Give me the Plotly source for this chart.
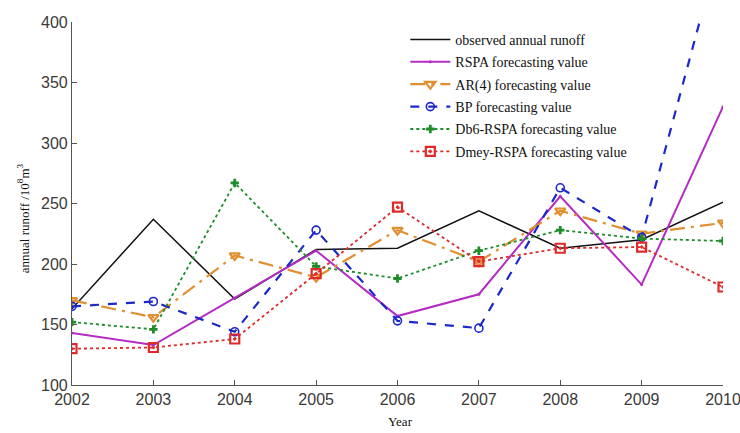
import plotly.graph_objects as go

years = [2002, 2003, 2004, 2005, 2006, 2007, 2008, 2009, 2010]
observed = [163, 237, 171, 212, 213, 244, 213, 220, 251]
rspa = [143, 133, 172, 211, 157, 175, 256, 183, 330]
ar4 = [170, 156, 207, 189, 228, 202, 244, 225, 234]
bp = [165, 169, 144, 228, 153, 147, 263, 222, 472]
db6_rspa = [152, 146, 267, 198, 188, 211, 228, 221, 219]
dmey_rspa = [130, 131, 138, 192, 247, 202, 213, 214, 181]

y_ticks = [100, 150, 200, 250, 300, 350, 400]

serif = "Liberation Serif, Times New Roman, serif"
sans = "Liberation Sans, Arial, sans-serif"

fig = go.Figure()

fig.add_trace(go.Scatter(
    x=years, y=observed, name="observed annual runoff", mode="lines",
    legendgroup="g1",
    line=dict(color="#111111", width=1.5)))

fig.add_trace(go.Scatter(
    x=years, y=rspa, name="RSPA forecasting value", mode="lines+markers",
    legendgroup="g2",
    line=dict(color="#b52bc4", width=2),
    marker=dict(symbol="circle", size=3, color="#b52bc4")))

fig.add_trace(go.Scatter(
    x=years, y=ar4, name="AR(4) forecasting value", mode="lines+markers",
    legendgroup="g3",
    line=dict(color="#e09030", width=2.2, dash="longdashdot"),
    marker=dict(symbol="triangle-down-open", size=9, color="#e09030",
                line=dict(width=2.2))))

fig.add_trace(go.Scatter(
    x=years, y=bp, name="BP forecasting value", mode="lines+markers",
    legendgroup="g4",
    line=dict(color="#1c28c8", width=2.2, dash="dash"),
    marker=dict(symbol="circle-open", size=8, color="#1c28c8",
                line=dict(width=1.6))))

fig.add_trace(go.Scatter(
    x=years, y=db6_rspa, name="Db6-RSPA forecasting value", mode="lines+markers",
    legendgroup="g5",
    line=dict(color="#1e8c2a", width=1.8, dash="dot"),
    marker=dict(symbol="cross", size=7, color="#1e8c2a")))

fig.add_trace(go.Scatter(
    x=years, y=dmey_rspa, name="Dmey-RSPA forecasting value", mode="lines+markers",
    legendgroup="g6",
    line=dict(color="#de2a2a", width=1.8, dash="dot"),
    marker=dict(symbol="square-open-dot", size=9, color="#de2a2a",
                line=dict(width=2.2))))

fig.update_layout(
    width=740, height=433,
    margin=dict(l=72, r=17, t=22, b=48, autoexpand=False),
    paper_bgcolor="white", plot_bgcolor="white",
    showlegend=True,
    legend=dict(
        x=0.512, y=0.995, xanchor="left", yanchor="top",
        bgcolor="rgba(255,255,255,0)", borderwidth=0,
        font=dict(family=serif, size=14, color="#111111"),
        itemwidth=40, tracegroupgap=1.2,
    ),
    xaxis=dict(
        range=[2002, 2010], tickmode="array", tickvals=years,
        ticks="inside", ticklen=5, tickcolor="#555555",
        showline=True, linecolor="#555555", linewidth=1.2,
        showgrid=False, zeroline=False, ticklabeloverflow="allow",
        automargin=False,
        tickfont=dict(family=sans, size=16, color="#3a3a3a"),
    ),
    yaxis=dict(
        range=[100, 400], tickmode="array", tickvals=y_ticks,
        ticks="inside", ticklen=5, tickcolor="#555555",
        showline=True, linecolor="#555555", linewidth=1.2,
        showgrid=False, zeroline=False, automargin=False,
        tickfont=dict(family=sans, size=16, color="#3a3a3a"),
    ),
    annotations=[
        dict(text="Year", xref="paper", yref="paper", x=0.504, y=-0.1,
             xanchor="center", yanchor="middle", showarrow=False,
             font=dict(family=serif, size=13, color="#111111")),
        dict(text="annual runoff /10<sup>8</sup>m<sup>3</sup>",
             xref="paper", yref="paper", x=-0.075, y=0.46,
             xanchor="center", yanchor="middle", textangle=-90, showarrow=False,
             font=dict(family=serif, size=13, color="#111111")),
    ],
)

fig.write_html("out.html")
